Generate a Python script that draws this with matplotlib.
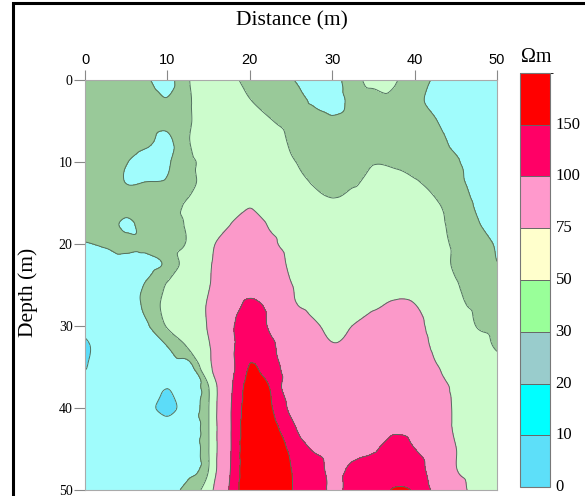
import numpy as np
import matplotlib
matplotlib.use("Agg")
import matplotlib.pyplot as plt
import matplotlib.tri as mtri
from matplotlib.colors import ListedColormap, BoundaryNorm
from matplotlib.cm import ScalarMappable
from matplotlib.patches import Rectangle

# grid nodes every 2.5 m
distance = np.arange(0, 50.01, 2.5)
depth = np.arange(0, 50.01, 2.5)

# apparent resistivity (ohm-m), rows = depth, cols = distance
rho = np.array([
    [25, 26, 26, 21, 17, 29, 40, 34, 26, 25, 21, 14, 16, 26, 33, 31, 24, 19, 15, 15, 15],
    [25, 26, 26, 24, 20.5, 28, 40, 40, 30.5, 25, 25, 19, 14, 24, 26, 28, 22, 18, 15, 15, 15],
    [25, 26, 26, 24, 22, 28, 40, 42, 40, 31, 25, 24, 22, 25, 26, 26, 26, 20.5, 16, 15, 15],
    [25, 26, 26, 22, 18, 29, 40, 43, 42, 40, 28, 25, 24, 25, 26, 26, 26, 23, 18, 15, 15],
    [25, 26, 20.5, 16, 19, 27, 34, 42, 45, 45, 32, 26, 25, 27, 29.5, 29, 27, 25, 21, 16, 15],
    [25, 26, 19.8, 20.2, 21, 26, 36, 42, 46, 48, 45, 29, 25, 28, 34, 33, 31, 27, 22, 18, 15],
    [25, 26, 26, 26, 27.8, 31, 38, 45, 48, 47, 46, 42, 32, 38, 40, 40, 38, 31, 26, 19, 15],
    [25, 25, 18, 25, 28, 31, 40, 49, 60, 48, 46, 44, 42, 42, 42, 42, 40, 33, 27, 21, 15],
    [19.5, 21, 23, 23, 27, 31, 46, 58, 68, 54, 44, 45, 44, 44, 44, 44, 43, 35, 28, 24, 19],
    [15, 16, 16, 17, 22, 36, 48, 62, 72, 66, 46, 44, 45, 45, 45, 45, 45, 38, 28, 25, 20.3],
    [15, 16, 17, 21, 31, 38, 49, 64, 80, 75, 51, 44, 45, 46, 46, 46, 46, 42, 31, 27, 26],
    [15, 15, 16, 22.2, 34, 40, 52, 75, 110, 90, 56, 44, 46, 47, 48, 52, 50.5, 42, 33, 28, 27],
    [13, 15, 16, 19, 31, 40, 52, 90, 125, 95, 78, 56, 46, 50.2, 58, 62, 56, 44, 40, 29.8, 27],
    [8, 15, 16, 17, 20, 31, 48, 85, 140, 108, 80, 68, 52, 58, 64, 66, 60, 47, 42, 36, 28.5],
    [9.5, 15, 15, 15, 15, 15, 45, 80, 152, 125, 75, 72, 66, 68, 70, 72, 66, 52, 44, 40, 36],
    [15, 15, 15, 15, 10.2, 15, 29.5, 88, 168, 148, 62, 70, 76, 78, 80, 82, 80, 68, 44, 42, 40],
    [15, 15, 15, 13, 7, 16, 29.5, 92, 178, 155, 90, 74, 80, 82, 84, 86, 84, 72, 46, 42, 40],
    [15, 15, 15, 15, 15, 16, 29.5, 92, 185, 170, 115, 65, 82, 86, 92, 95, 90, 76, 46, 42, 40],
    [15, 15, 15, 15, 15, 16, 29.5, 92, 190, 172, 143, 98, 85, 88, 96, 115, 100.5, 80, 50.5, 44, 40],
    [15, 15, 15, 15, 15, 17, 30, 95, 192, 175, 150.5, 126, 90, 108, 120, 130, 120, 80, 51, 44, 40],
    [15, 15, 15, 15, 16, 24, 40, 102, 195, 180, 152, 125, 95, 110, 125, 153, 145, 89, 60, 44, 40],
])

# map shading
map_levels = [0, 10, 20, 30, 50, 100, 150, 300]
map_colors = ['#5cdcf8', '#a0fcfc', '#99c999', '#ccfccc', '#fb99c9', '#ff0066', '#ff0000']

# colour scale
cbar_bounds = [0, 10, 20, 30, 50, 75, 100, 150, 200]
cbar_colors = ['#5ddff9', '#00ffff', '#99cccc', '#99ff99', '#ffffcc', '#ff99cc', '#ff0066', '#ff0000']
cbar_labels = ['0', '10', '20', '30', '50', '75', '100', '150']

serif = 'Liberation Serif'
sans = 'Liberation Sans'

# smooth the grid for contouring
X, Y = np.meshgrid(distance, depth)
tri = mtri.Triangulation(X.ravel(), Y.ravel())
interp = mtri.CubicTriInterpolator(tri, rho.ravel(), kind='geom')
xf = np.linspace(0, 50, 301)
yf = np.linspace(0, 50, 301)
XF, YF = np.meshgrid(xf, yf)
Z = np.clip(np.asarray(interp(XF, YF)), 0.5, 299)

fig = plt.figure(figsize=(5.85, 4.96), dpi=100)
ax = fig.add_axes([85 / 585, 6 / 496, 412 / 585, 410 / 496])
ax.contourf(xf, yf, Z, levels=map_levels, colors=map_colors)
ax.contour(xf, yf, Z, levels=map_levels[1:-1], colors='#52705f', linewidths=0.7)

ax.set_xlim(0, 50)
ax.set_ylim(50, 0)
ax.xaxis.tick_top()
ax.set_xticks(range(0, 51, 10))
ax.set_yticks(range(0, 51, 10))
ax.tick_params(axis='x', length=7, width=0.8, color='#888888', labelsize=10.5, pad=2)
ax.tick_params(axis='y', length=8, width=0.8, color='#888888', labelsize=10, pad=1)
for lbl in ax.get_xticklabels():
    lbl.set_fontfamily(sans)
for lbl in ax.get_yticklabels():
    lbl.set_fontfamily(serif)
for sp in ax.spines.values():
    sp.set_color('#aaaaaa')
    sp.set_linewidth(0.8)

fig.text(292 / 585, 1 - 21 / 496, 'Distance (m)', ha='center', va='center',
         fontsize=15.5, family=serif)
fig.text(28 / 585, 1 - 292 / 496, 'Depth (m)', ha='center', va='center',
         rotation=90, fontsize=15.5, family=serif)
fig.text(536 / 585, 1 - 62 / 496, 'Ωm', ha='center', va='baseline',
         fontsize=14.5, family=serif)

# colour bar
cax = fig.add_axes([520 / 585, 9 / 496, 30 / 585, 414 / 496])
cmap = ListedColormap(cbar_colors)
norm = BoundaryNorm(cbar_bounds, cmap.N)
cb = fig.colorbar(ScalarMappable(norm=norm, cmap=cmap), cax=cax,
                  spacing='uniform', ticks=cbar_bounds[:-1], drawedges=True)
cb.set_ticklabels(cbar_labels)
cb.outline.set_edgecolor('#777777')
cb.outline.set_linewidth(0.8)
cb.dividers.set_color('#666666')
cb.dividers.set_linewidth(0.7)
cax.tick_params(length=0, pad=4, labelsize=12)
for lbl in cax.get_yticklabels():
    lbl.set_fontfamily(serif)
    lbl.set_verticalalignment('center')

# outer frame
fig.patches.append(Rectangle((13 / 585, -0.05), 1.0, 1 - 3 / 496 + 0.05,
                             transform=fig.transFigure, fill=False,
                             edgecolor='black', linewidth=2.2))

fig.savefig('out.png', dpi=100)
